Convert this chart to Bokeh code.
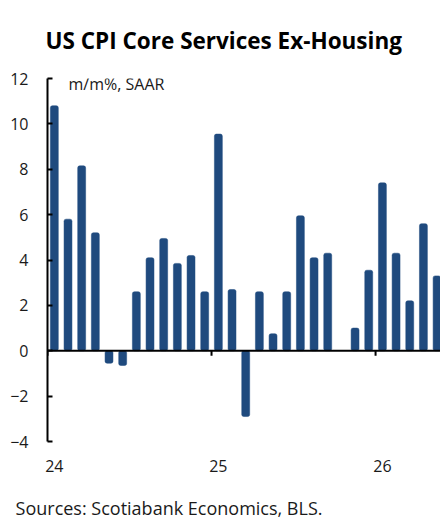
from bokeh.plotting import figure
from bokeh.models import ColumnDataSource, FixedTicker, Span, Label, LinearAxis
from bokeh.embed import file_html
from bokeh.resources import INLINE

# Monthly data, Jan 2024 .. May 2026 (Oct 2025 not published)
months = ["2024-01", "2024-02", "2024-03", "2024-04", "2024-05", "2024-06",
          "2024-07", "2024-08", "2024-09", "2024-10", "2024-11", "2024-12",
          "2025-01", "2025-02", "2025-03", "2025-04", "2025-05", "2025-06",
          "2025-07", "2025-08", "2025-09", "2025-11", "2025-12",
          "2026-01", "2026-02", "2026-03", "2026-04", "2026-05"]
values = [10.8, 5.8, 8.15, 5.2, -0.55, -0.65,
          2.6, 4.1, 4.95, 3.85, 4.2, 2.6,
          9.55, 2.7, -2.9, 2.6, 0.75, 2.6,
          5.95, 4.1, 4.3, 1.0, 3.55,
          7.4, 4.3, 2.2, 5.6, 3.3]
year_ticks_labels = ["24", "25", "26"]
y_ticks = [-4, -2, 0, 2, 4, 6, 8, 10, 12]
source_note = "Sources: Scotiabank Economics, BLS."

base_year = 2024
idx = [(int(m[:4]) - base_year) * 12 + int(m[5:]) - 1 for m in months]
src = ColumnDataSource(dict(x=idx, top=values))

year_pos = [i * 12 for i in range(len(year_ticks_labels))]
year_bounds = [p_ - 0.5 for p_ in year_pos]

FONT = "Open Sans"

p = figure(width=440, height=522, output_backend="svg", toolbar_location=None,
           x_range=(-0.5, 28.25), y_range=(-4, 12),
           min_border_left=47, min_border_right=0, min_border_top=76, min_border_bottom=81)
p.outline_line_color = None
p.xgrid.visible = False
p.ygrid.visible = False

p.title.text = "US CPI Core Services Ex-Housing"
p.title.text_font = FONT
p.title.text_font_style = "bold"
p.title.text_font_size = "22.5px"
p.title.align = "left"
p.title.offset = -2
p.title.standoff = 45
p.title.text_color = "#000000"

p.vbar(x="x", top="top", bottom=0, width=0.58, source=src,
       fill_color="#1f4a7e", line_color="#1f4a7e", line_width=0.5, border_radius=2)

p.add_layout(Span(location=0, dimension="width", line_color="#000000", line_width=2))
p.segment(x0=year_bounds, x1=year_bounds, y0=[0] * len(year_bounds),
          y1=[-0.22] * len(year_bounds), line_color="#000000", line_width=2)

ya = p.yaxis[0]
ya.ticker = FixedTicker(ticks=y_ticks)
ya.major_tick_in = 5
ya.major_tick_out = 0
ya.minor_tick_line_color = None
ya.axis_line_width = 2
ya.major_tick_line_width = 2
ya.major_label_standoff = 19
ya.major_label_text_font = FONT
ya.major_label_text_font_size = "16px"
ya.major_label_text_color = "#1a1a1a"

xa = p.xaxis[0]
xa.ticker = FixedTicker(ticks=year_pos)
xa.major_label_overrides = {p_: l for p_, l in zip(year_pos, year_ticks_labels)}
xa.axis_line_color = None
xa.major_tick_line_color = None
xa.minor_tick_line_color = None
xa.major_label_standoff = 12
xa.major_label_text_font = FONT
xa.major_label_text_font_size = "16px"
xa.major_label_text_color = "#1a1a1a"

# source note, drawn as a second (label-only) axis below the chart
note_x = 8.39
na = LinearAxis(ticker=FixedTicker(ticks=[note_x]),
                major_label_overrides={note_x: source_note},
                axis_line_color=None, major_tick_line_color=None, minor_tick_line_color=None,
                major_label_standoff=15, major_label_text_font=FONT,
                major_label_text_font_size="18px", major_label_text_color="#1a1a1a")
p.add_layout(na, "below")

p.add_layout(Label(x=1.04, y=11.75, text="m/m%, SAAR", text_font=FONT,
                   text_font_size="16px", text_baseline="middle", text_color="#1a1a1a"))

open("out.html", "w").write(file_html(p, INLINE))
